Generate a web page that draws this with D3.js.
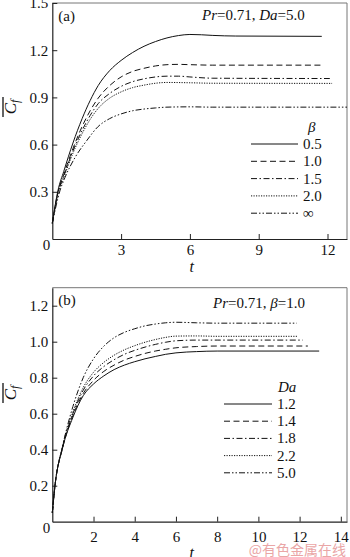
<!DOCTYPE html>
<html>
<head>
<meta charset="utf-8">
<script src="https://cdn.jsdelivr.net/npm/d3@7"></script>
<style>
  html, body { margin: 0; padding: 0; background: #fff; }
  svg { display: block; }
  svg text { font-family: "Liberation Serif", "Times New Roman", "DejaVu Serif", serif !important; fill: #111; }
  svg text.cjk { font-family: "Noto Sans CJK SC", sans-serif !important; fill: #eaa6a6; }
</style>
</head>
<body>
<svg id="chart" width="350" height="557"></svg>
<script>
// ---- Panel (a): Pr=0.71, Da=5.0, curves for several beta ----
const betaLabels = ["0.5", "1.0", "1.5", "2.0", "\u221E"];
const betaT = [
  [0, 0.25, 0.5, 0.9, 1.3, 1.65, 2, 2.5, 3, 3.5, 4, 4.5, 5, 5.5, 6, 6.5, 7, 8, 11.75],
  [0, 0.25, 0.5, 0.9, 1.3, 1.65, 2, 2.5, 3, 3.5, 4, 4.5, 5, 5.5, 6, 7, 11.7],
  [0, 0.25, 0.5, 0.9, 1.3, 1.65, 2, 2.5, 3, 3.5, 4, 4.5, 5, 5.5, 6, 7, 12.1],
  [0, 0.25, 0.5, 0.9, 1.3, 1.65, 2, 2.5, 3, 3.5, 4, 4.5, 5, 6, 7, 12.2],
  [0, 0.34, 0.55, 1, 1.5, 2, 2.5, 3, 3.5, 4, 4.5, 5, 6, 7, 12.85]
];
const betaCf = [
  [0.10, 0.31, 0.43, 0.61, 0.765, 0.88, 0.975, 1.07, 1.135, 1.185, 1.225, 1.255, 1.278, 1.293, 1.30, 1.298, 1.294, 1.29, 1.288],
  [0.10, 0.30, 0.41, 0.575, 0.715, 0.815, 0.895, 0.975, 1.03, 1.065, 1.085, 1.10, 1.108, 1.11, 1.108, 1.105, 1.105],
  [0.10, 0.295, 0.40, 0.56, 0.69, 0.785, 0.86, 0.925, 0.97, 1.0, 1.018, 1.03, 1.035, 1.035, 1.03, 1.022, 1.02],
  [0.10, 0.29, 0.39, 0.545, 0.67, 0.76, 0.83, 0.895, 0.935, 0.962, 0.978, 0.99, 0.995, 0.993, 0.99, 0.989],
  [0.10, 0.31, 0.39, 0.52, 0.625, 0.715, 0.765, 0.795, 0.815, 0.826, 0.833, 0.838, 0.84, 0.838, 0.838]
];
const aXTicks = [3, 6, 9, 12];
const aYTicks = [0.3, 0.6, 0.9, 1.2, 1.5];

// ---- Panel (b): Pr=0.71, beta=1.0, curves for several Da ----
const daLabels = ["1.2", "1.4", "1.8", "2.2", "5.0"];
const daT = [
  [0, 0.13, 0.5, 1, 1.5, 2, 2.5, 3, 3.5, 4, 4.5, 5, 5.5, 6, 7, 8, 12.95],
  [0, 0.13, 0.5, 1, 1.5, 2, 2.5, 3, 3.5, 4, 4.5, 5, 5.5, 6, 7, 8, 12.4],
  [0, 0.13, 0.5, 1, 1.5, 2, 2.5, 3, 3.5, 4, 4.5, 5, 5.5, 6, 7, 8, 12.15],
  [0, 0.13, 0.5, 1, 1.5, 2, 2.5, 3, 3.5, 4, 4.5, 5, 5.5, 6, 7, 8, 11.9],
  [0, 0.13, 0.5, 1, 1.5, 2, 2.5, 3, 3.5, 4, 4.5, 5, 5.5, 6, 7, 8, 11.86]
];
const daCf = [
  [0.05, 0.20, 0.41, 0.58, 0.70, 0.765, 0.81, 0.845, 0.87, 0.889, 0.905, 0.918, 0.93, 0.938, 0.945, 0.948, 0.948],
  [0.05, 0.20, 0.41, 0.59, 0.712, 0.785, 0.835, 0.87, 0.898, 0.918, 0.935, 0.948, 0.958, 0.966, 0.973, 0.976, 0.976],
  [0.05, 0.20, 0.415, 0.60, 0.73, 0.81, 0.862, 0.90, 0.93, 0.952, 0.97, 0.985, 0.997, 1.005, 1.009, 1.009, 1.009],
  [0.05, 0.20, 0.42, 0.61, 0.745, 0.83, 0.885, 0.925, 0.955, 0.978, 0.997, 1.012, 1.024, 1.031, 1.032, 1.03, 1.03],
  [0.05, 0.20, 0.42, 0.64, 0.80, 0.905, 0.975, 1.022, 1.052, 1.072, 1.088, 1.098, 1.105, 1.108, 1.105, 1.103, 1.103]
];
const bXTicks = [2, 4, 6, 8, 10, 12, 14];
const bYTicks = [0.2, 0.4, 0.6, 0.8, 1.0, 1.2];

// line styles shared by both legends (solid, dashed, dash-dot, dotted, dash-dot-dot)
const dashes = ["none", "6,3.5", "6,2.5,1.5,2.5", "1.2,1.3", "6,2,1.5,2,1.5,2"];

const svg = d3.select("#chart");
const FS = 15;

function panel(cfg) {
  const x = d3.scaleLinear().domain(cfg.xDomain).range([cfg.left, cfg.right]);
  const y = d3.scaleLinear().domain(cfg.yDomain).range([cfg.bottom, cfg.top]);
  const g = svg.append("g");

  // frame (top/right lighter)
  g.append("path")
    .attr("d", `M${cfg.left},${cfg.top}H${cfg.right}V${cfg.bottom}`)
    .attr("fill", "none").attr("stroke", "#777").attr("stroke-width", 1);

  // axes with inward ticks
  const xAxis = d3.axisBottom(x).tickValues(cfg.xTicks).tickSizeInner(-5).tickSizeOuter(0).tickPadding(0).tickFormat(d3.format("d"));
  const gx = g.append("g").attr("transform", `translate(0,${cfg.bottom})`).call(xAxis);
  gx.attr("font-family", null);
  gx.select(".domain").attr("stroke", "#222").attr("stroke-width", 1.2);
  gx.selectAll(".tick line").attr("stroke", "#222");
  gx.selectAll(".tick text").attr("font-size", FS).attr("dy", null)
    .attr("y", cfg.xLabelOffset).attr("dominant-baseline", "central");

  const yAxis = d3.axisLeft(y).tickValues(cfg.yTicks).tickSizeInner(-5).tickSizeOuter(0).tickPadding(0).tickFormat(d3.format(".1f"));
  const gy = g.append("g").attr("transform", `translate(${cfg.left},0)`).call(yAxis);
  gy.attr("font-family", null);
  gy.select(".domain").attr("stroke", "#222").attr("stroke-width", 1.2);
  gy.selectAll(".tick line").attr("stroke", "#222");
  gy.selectAll(".tick text").attr("font-size", FS).attr("x", -4).attr("dy", "0.33em");

  // shared origin label
  g.append("text").attr("x", cfg.left - 2).attr("y", cfg.bottom + cfg.zeroOffset)
    .attr("text-anchor", "end").attr("dominant-baseline", "central").attr("font-size", FS).text("0");

  // curves
  const line = d3.line().x(d => x(d[0])).y(d => y(d[1])).curve(d3.curveMonotoneX);
  cfg.ts.forEach((ts, i) => {
    const pts = ts.map((t, j) => [t, cfg.vals[i][j]]);
    g.append("path").datum(pts).attr("d", line)
      .attr("fill", "none").attr("stroke", "#111").attr("stroke-width", 1)
      .attr("stroke-dasharray", dashes[i]);
  });

  // panel tag and parameters
  g.append("text").attr("x", cfg.left + 6).attr("y", cfg.tagY).attr("dominant-baseline", "central")
    .attr("font-size", FS).text(cfg.tag);
  const title = g.append("text").attr("x", cfg.titleX).attr("y", cfg.titleY)
    .attr("dominant-baseline", "central").attr("font-size", FS);
  cfg.title.forEach(p => title.append("tspan").attr("font-style", p[1] ? "italic" : "normal").text(p[0]));

  // legend
  g.append("text").attr("x", cfg.legTitleX).attr("y", cfg.legTop - cfg.legStep)
    .attr("dominant-baseline", "central").attr("font-size", FS).attr("font-style", "italic")
    .text(cfg.legTitle);
  cfg.labels.forEach((lab, i) => {
    const yy = cfg.legTop + i * cfg.legStep;
    g.append("line").attr("x1", cfg.legX1).attr("x2", cfg.legX2).attr("y1", yy).attr("y2", yy)
      .attr("stroke", "#111").attr("stroke-width", 1).attr("stroke-dasharray", dashes[i]);
    g.append("text").attr("x", cfg.legX2 + 5).attr("y", yy).attr("dominant-baseline", "central")
      .attr("font-size", FS).text(lab);
  });

  // axis titles
  g.append("text").attr("x", (cfg.left + cfg.right) / 2 - 8).attr("y", cfg.tLabelY)
    .attr("text-anchor", "middle").attr("dominant-baseline", "central")
    .attr("font-size", FS + 1).attr("font-style", "italic").text("t");

  const yl = g.append("g").attr("transform", `translate(16,${cfg.yLabelY}) rotate(-90)`);
  const yt = yl.append("text").attr("text-anchor", "middle").attr("font-size", FS + 2).attr("font-style", "italic");
  yt.append("tspan").text("C");
  yt.append("tspan").attr("dy", 3).attr("font-size", 12).text("f");
  yl.append("line").attr("x1", -10).attr("x2", 10).attr("y1", -13).attr("y2", -13)
    .attr("stroke", "#111").attr("stroke-width", 1.3);
}

panel({
  left: 52.3, right: 347, top: 3, bottom: 239,
  xDomain: [0, 12.85], yDomain: [0, 1.5],
  xTicks: aXTicks, yTicks: aYTicks, xLabelOffset: 11, zeroOffset: 6,
  ts: betaT, vals: betaCf,
  tag: "(a)", tagY: 15.5,
  title: [["Pr", true], ["=0.71, ", false], ["Da", true], ["=5.0", false]], titleX: 202, titleY: 15,
  legTitle: "\u03B2", legTitleX: 308, legTop: 144, legStep: 17.3, legX1: 251, legX2: 298,
  labels: betaLabels, tLabelY: 266, yLabelY: 107
});

panel({
  left: 52.3, right: 347, top: 287.7, bottom: 521.7,
  xDomain: [0, 14.3], yDomain: [0, 1.3],
  xTicks: bXTicks, yTicks: bYTicks, xLabelOffset: 15, zeroOffset: 6.5,
  ts: daT, vals: daCf,
  tag: "(b)", tagY: 300,
  title: [["Pr", true], ["=0.71, ", false], ["\u03B2", true], ["=1.0", false]], titleX: 213, titleY: 303,
  legTitle: "Da", legTitleX: 278, legTop: 404, legStep: 17.2, legX1: 224, legX2: 272,
  labels: daLabels, tLabelY: 552, yLabelY: 393
});

// source mark
svg.append("text").attr("class", "cjk").attr("x", 346).attr("y", 549).attr("text-anchor", "end")
  .attr("dominant-baseline", "central").attr("font-size", 14).text("@有色金属在线");
</script>
</body>
</html>
